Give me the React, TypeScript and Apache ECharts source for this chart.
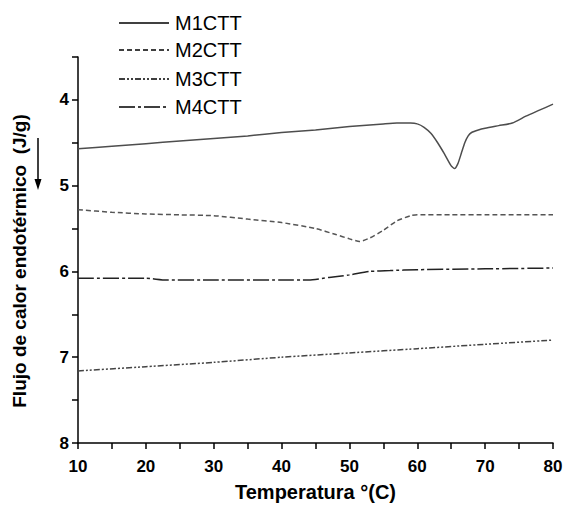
import React, { useEffect, useRef } from "react";
import * as echarts from "echarts";

const seriesNames = ["M1CTT", "M2CTT", "M3CTT", "M4CTT"];

const temps1 = [10, 15, 20, 25, 30, 35, 40, 45, 50, 55, 57, 59, 60, 61, 62, 63, 64, 65, 65.5, 66, 66.5, 67, 67.5, 68, 69, 70, 72, 74, 76, 78, 80];
const vals1 = [4.57, 4.54, 4.51, 4.48, 4.45, 4.42, 4.38, 4.35, 4.31, 4.28, 4.27, 4.27, 4.28, 4.32, 4.39, 4.5, 4.63, 4.77, 4.8, 4.74, 4.62, 4.5, 4.42, 4.38, 4.35, 4.33, 4.3, 4.27, 4.19, 4.12, 4.05];

const temps2 = [10, 15, 20, 25, 30, 35, 40, 45, 48, 50, 51.5, 53, 55, 57, 59, 60, 65, 70, 75, 80];
const vals2 = [5.28, 5.31, 5.33, 5.34, 5.35, 5.39, 5.43, 5.5, 5.57, 5.62, 5.65, 5.61, 5.52, 5.41, 5.35, 5.34, 5.34, 5.34, 5.34, 5.34];

const temps3 = [10, 20, 30, 40, 50, 60, 70, 80];
const vals3 = [7.16, 7.11, 7.06, 7.0, 6.95, 6.9, 6.85, 6.8];

const temps4 = [10, 20, 23, 30, 40, 44, 47, 50, 53, 56, 60, 70, 80];
const vals4 = [6.08, 6.08, 6.1, 6.1, 6.1, 6.1, 6.07, 6.04, 6.0, 5.99, 5.98, 5.97, 5.96];

const seriesColors = ["#4d4d4d", "#555555", "#444444", "#222222"];
const seriesDash: any[] = ["solid", [5, 3], [6, 2, 2, 2, 2, 2], [16, 3, 3, 3]];

const FONT = "'Liberation Sans', Arial, Helvetica, sans-serif";

const pairs = (xs: number[], ys: number[]) => xs.map((x, i) => [x, ys[i]]);

export default function App() {
  const ref = useRef<HTMLDivElement>(null);
  useEffect(() => {
    if (!ref.current) return;
    const chart = echarts.init(ref.current, undefined, { renderer: "svg" });
    const mk = (i: number, data: number[][]) => ({
      name: seriesNames[i],
      type: "line",
      data,
      symbol: "none",
      showSymbol: false,
      smooth: 0.2,
      lineStyle: { color: seriesColors[i], width: 1.5, type: seriesDash[i] },
      itemStyle: { color: seriesColors[i] },
    });
    const legendRows = [23, 50, 79, 107];
    const legendGraphics: any[] = [];
    seriesNames.forEach((n, i) => {
      const y = legendRows[i];
      legendGraphics.push({
        type: "line",
        shape: { x1: 119, y1: y, x2: 169, y2: y },
        style: {
          stroke: "#000",
          lineWidth: 1.5,
          lineDash: Array.isArray(seriesDash[i]) ? seriesDash[i] : null,
        },
      });
      legendGraphics.push({
        type: "text",
        x: 175,
        y,
        style: {
          text: n,
          fontSize: 20,
          fontFamily: FONT,
          fill: "#000",
          verticalAlign: "middle",
          align: "left",
        },
      });
    });
    chart.setOption({
      animation: false,
      backgroundColor: "#fff",
      grid: { left: 78, right: 13, top: 57, bottom: 68 },
      xAxis: {
        type: "value",
        min: 10,
        max: 80,
        interval: 5,
        name: "Temperatura °(C)",
        nameLocation: "middle",
        nameGap: 39,
        nameTextStyle: { fontSize: 20, fontWeight: "bold", color: "#000", fontFamily: FONT },
        axisLine: { lineStyle: { color: "#000", width: 1.5 } },
        axisTick: { length: 6, lineStyle: { color: "#000", width: 1.5 } },
        axisLabel: {
          fontSize: 17,
          fontWeight: "bold",
          color: "#000",
          fontFamily: FONT,
          margin: 15,
          formatter: (v: number) => (Math.abs(v % 10) < 1e-6 ? String(v) : ""),
        },
        splitLine: { show: false },
      },
      yAxis: {
        type: "value",
        inverse: true,
        min: 3.5,
        max: 8,
        interval: 0.5,
        name: "Flujo de calor endotérmico  (J/g)",
        nameLocation: "middle",
        nameRotate: 90,
        nameGap: 49,
        nameTextStyle: {
          fontSize: 19,
          fontWeight: "bold",
          color: "#000",
          fontFamily: FONT,
          padding: [0, 22, 0, 0],
        },
        axisLine: { show: true, lineStyle: { color: "#000", width: 1.5 } },
        axisTick: { show: true, length: 6, lineStyle: { color: "#000", width: 1.5 } },
        axisLabel: {
          fontSize: 17,
          fontWeight: "bold",
          color: "#000",
          fontFamily: FONT,
          margin: 9,
          formatter: (v: number) => (Math.abs(v - Math.round(v)) < 1e-6 ? String(Math.round(v)) : ""),
        },
        splitLine: { show: false },
      },
      graphic: [
        ...legendGraphics,
        {
          type: "line",
          shape: { x1: 38, y1: 138, x2: 38, y2: 182 },
          style: { stroke: "#000", lineWidth: 1.5 },
        },
        {
          type: "polygon",
          shape: { points: [[34.5, 179], [41.5, 179], [38, 190]] },
          style: { fill: "#000" },
        },
      ],
      series: [
        mk(0, pairs(temps1, vals1)),
        mk(1, pairs(temps2, vals2)),
        mk(2, pairs(temps3, vals3)),
        mk(3, pairs(temps4, vals4)),
      ],
    });
    return () => chart.dispose();
  }, []);
  return (
    <div
      ref={ref}
      style={{ position: "absolute", left: 0, top: 0, width: 566, height: 511 }}
    />
  );
}
